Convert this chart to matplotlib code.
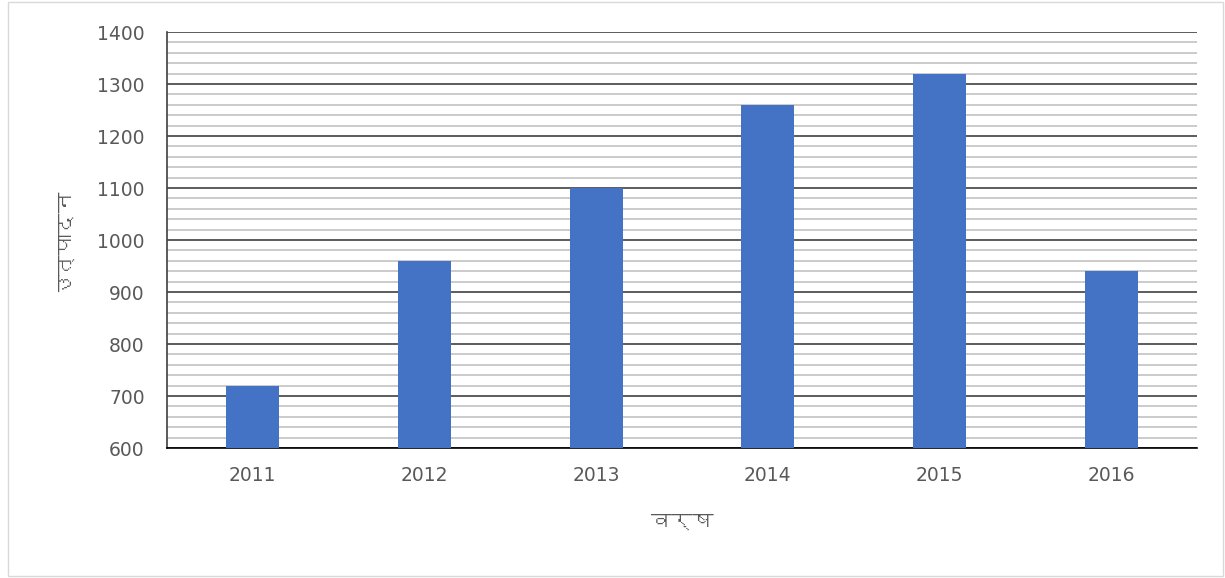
import matplotlib
matplotlib.use("Agg")
import matplotlib.pyplot as plt
from matplotlib import font_manager
from matplotlib.ft2font import FT2Font
from matplotlib.ticker import MultipleLocator
from matplotlib.patches import Rectangle

# data
years = ["2011", "2012", "2013", "2014", "2015", "2016"]
production = [720, 960, 1100, 1260, 1320, 940]

# find a font that has Devanagari glyphs
deva_font = None
for f in font_manager.fontManager.ttflist:
    try:
        ft = FT2Font(f.fname)
        if 0x0935 in ft.get_charmap():
            deva_font = f.name
            break
    except Exception:
        pass
label_family = [deva_font, "DejaVu Sans"] if deva_font else ["DejaVu Sans"]

fig = plt.figure(figsize=(12.25, 5.78), dpi=100)
ax = fig.add_axes([167 / 1225, 1 - 448 / 578, 1030 / 1225, 416 / 578])
fig.patches.append(Rectangle((8 / 1225, 2 / 578), 1215 / 1225, 574 / 578,
                             transform=fig.transFigure, fill=False,
                             edgecolor="#d9d9d9", linewidth=1))

x = range(len(years))
ax.bar(x, production, width=0.31, color="#4472C4", zorder=3)

ax.set_xlim(-0.5, 5.5)
ax.set_ylim(600, 1400)
ax.yaxis.set_major_locator(MultipleLocator(100))
ax.yaxis.set_minor_locator(MultipleLocator(20))
ax.grid(which="major", axis="y", color="#303030", linewidth=1.1, zorder=0)
ax.grid(which="minor", axis="y", color="#bdbdbd", linewidth=1.1, zorder=0)
ax.set_xticks(list(x))
ax.set_xticklabels(years)

for s in ["top", "right"]:
    ax.spines[s].set_visible(False)
ax.spines["left"].set_color("#404040")
ax.spines["bottom"].set_color("#000000")
ax.spines["left"].set_linewidth(1.2)
ax.spines["bottom"].set_linewidth(1.2)
ax.tick_params(axis="both", which="both", length=0, labelsize=13.5,
               labelcolor="#595959")
ax.tick_params(axis="x", pad=13)
ax.tick_params(axis="y", pad=16)

ax.set_xlabel("वर्ष", fontsize=15, color="#595959", family=label_family,
              labelpad=20)
ax.set_ylabel("उत्पादन", fontsize=15, color="#595959", family=label_family,
              labelpad=18)

fig.savefig("out.png", dpi=100)
